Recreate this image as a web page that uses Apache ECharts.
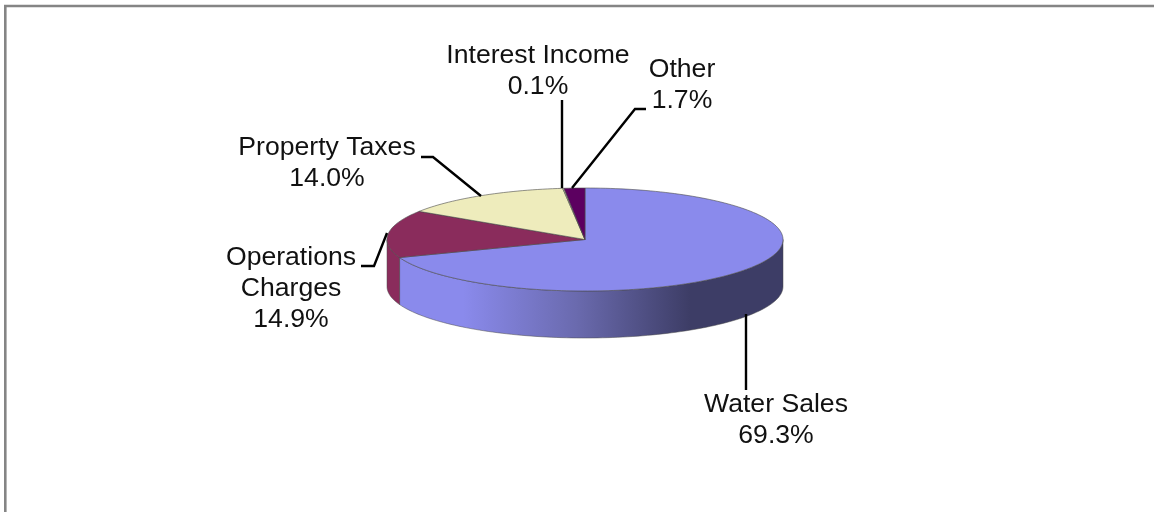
<!DOCTYPE html>
<html><head><meta charset="utf-8">
<style>html,body{margin:0;padding:0;background:#fff}#c{width:1154px;height:512px}</style>
<script src="https://cdn.jsdelivr.net/npm/echarts@6/dist/echarts.min.js"></script>
</head><body><div id="c"></div>
<script>
const categories = ['Water Sales', 'Operations\nCharges', 'Property Taxes', 'Interest Income', 'Other'];
const shares = [69.3, 14.9, 14.0, 0.1, 1.7];
const topColors = ['#8a8aec', '#8a2c5c', '#eeecbc', '#d8d6b0', '#5c0060'];
const sideColors = ['#8a8aec', '#8a2c5c', '#c0bd98', '#aaa', '#400044'];
// layout of the tilted pie
const CX = 585, CY = 239.5, RX = 198, RY = 51.5, DEPTH = 47;
const labelPos = [[776, 419.5], [291, 288.5], [327, 163], [538, 70.5], [682, 84.5]];
const leaders = [
  [[746, 314], [746, 390]],
  [[361, 266], [374, 266], [387, 233]],
  [[421, 157], [433, 157], [481, 196]],
  [[562, 100], [562, 188]],
  [[646, 109], [635, 109], [572, 188]]
];
const total = shares.reduce((a, b) => a + b, 0);
function pt(deg, dy) {
  const r = deg * Math.PI / 180;
  return [CX + RX * Math.sin(r), CY - RY * Math.cos(r) + (dy || 0)];
}
function arc(a0, a1, dy) {
  const out = [], n = Math.max(2, Math.ceil(Math.abs(a1 - a0) / 1.5));
  for (let i = 0; i <= n; i++) out.push(pt(a0 + (a1 - a0) * i / n, dy));
  return out;
}
const edge = '#4a4a4a';
function renderSlice(params, api) {
  const i = api.value(0);
  let before = 0;
  for (let k = 0; k < i; k++) before += shares[k];
  const a0 = before / total * 360, a1 = (before + api.value(1)) / total * 360;
  const children = [];
  const s0 = Math.max(a0, 90), s1 = Math.min(a1, 270);
  if (s1 > s0) {
    const fill = i === 0
      ? new echarts.graphic.LinearGradient(463, 0, 690, 0, [
          { offset: 0, color: '#8a8aec' }, { offset: 0.5, color: '#6a6aae' }, { offset: 1, color: '#3d3d66' }], true)
      : sideColors[i];
    children.push({
      type: 'polygon',
      shape: { points: arc(s0, s1, 0).concat(arc(s1, s0, DEPTH)) },
      style: { fill, stroke: edge, lineWidth: 0.5 }
    });
  }
  children.push({
    type: 'polygon',
    shape: { points: [[CX, CY]].concat(arc(a0, a1, 0)) },
    style: { fill: topColors[i], stroke: edge, lineWidth: 0.6 }
  });
  return { type: 'group', children };
}
function renderLabel(params, api) {
  const i = api.value(0);
  const [x, y] = labelPos[i];
  return {
    type: 'group',
    children: [
      { type: 'polyline', shape: { points: leaders[i] }, style: { fill: 'none', stroke: '#000', lineWidth: 2.4 }, z2: 5 },
      { type: 'text', x, y: y + 0.5, z2: 6, style: {
          text: categories[i] + '\n' + api.value(1).toFixed(1) + '%',
          fontFamily: 'Liberation Sans', fontSize: 26.6, lineHeight: 31,
          fill: '#111', align: 'center', verticalAlign: 'middle' } }
    ]
  };
}
const rows = shares.map((v, i) => [i, v]);
const chart = echarts.init(document.getElementById('c'), null, { renderer: 'canvas' });
chart.setOption({
  animation: false,
  backgroundColor: '#fff',
  graphic: [
    { type: 'polyline', shape: { points: [[5.3, 512], [5.3, 6], [1154, 6]] }, style: { fill: 'none', stroke: '#858585', lineWidth: 2.6 } }
  ],
  series: [
    { type: 'custom', coordinateSystem: 'none', silent: true, clip: false, data: rows, renderItem: renderSlice, z: 2 },
    { type: 'custom', coordinateSystem: 'none', silent: true, clip: false, data: rows, renderItem: renderLabel, z: 3 }
  ]
});
</script></body></html>
